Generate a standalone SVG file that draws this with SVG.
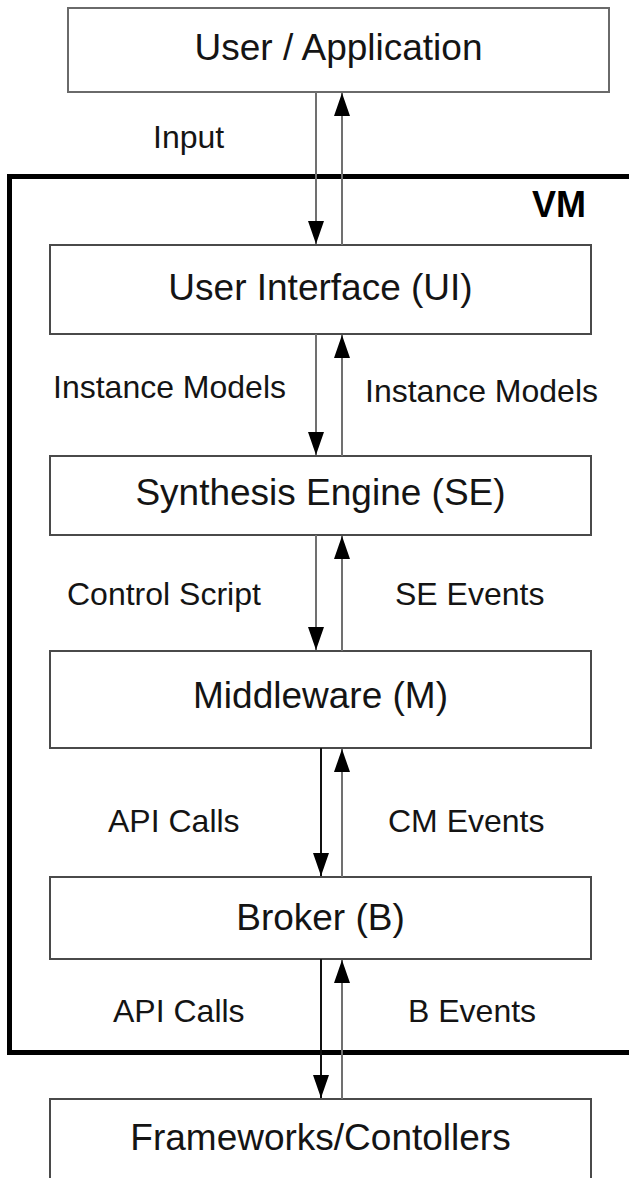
<svg xmlns="http://www.w3.org/2000/svg" width="629" height="1178" viewBox="0 0 629 1178">
  <defs>
    <marker id="head" markerUnits="userSpaceOnUse" markerWidth="24" markerHeight="18" viewBox="0 0 24 18" refX="23" refY="9" orient="auto">
      <path d="M0,1 L23,9 L0,17 Z" fill="#000"/>
    </marker>
    <style>
      .box { fill: #fff; stroke: #4a4a4a; stroke-width: 2; }
      .name { font-family: "Liberation Sans", Arial, sans-serif; font-size: 37px; fill: #141414; text-anchor: middle; }
      .lbl { font-family: "Liberation Sans", Arial, sans-serif; font-size: 32px; fill: #141414; }
      .flow { stroke: #707070; stroke-width: 2; fill: none; }
      .flow.dark { stroke: #111; }
    </style>
  </defs>

  <rect width="629" height="1178" fill="#fff"/>

  <!-- VM container -->
  <g id="vm">
    <rect x="9.5" y="176.5" width="640" height="876" fill="none" stroke="#000" stroke-width="5"/>
    <text x="586" y="217" font-family="Liberation Sans, Arial, sans-serif" font-size="36" font-weight="bold" text-anchor="end" fill="#000">VM</text>
  </g>

  <g id="user-app">
    <rect class="box" x="68" y="8" width="541" height="84" style="stroke:#6a6a6a"/>
    <text class="name" x="338.5" y="60">User / Application</text>
  </g>

  <g id="ui">
    <rect class="box" x="50" y="245" width="541" height="89"/>
    <text class="name" x="320.5" y="300">User Interface (UI)</text>
  </g>

  <g id="se">
    <rect class="box" x="50" y="456" width="541" height="79"/>
    <text class="name" x="320.5" y="505">Synthesis Engine (SE)</text>
  </g>

  <g id="middleware">
    <rect class="box" x="50" y="651" width="541" height="97"/>
    <text class="name" x="320.5" y="708">Middleware (M)</text>
  </g>

  <g id="broker">
    <rect class="box" x="50" y="877" width="541" height="82"/>
    <text class="name" x="320.5" y="930">Broker (B)</text>
  </g>

  <g id="frameworks">
    <rect class="box" x="50" y="1099" width="541" height="100"/>
    <text class="name" x="320.5" y="1150">Frameworks/Contollers</text>
  </g>

  <!-- connectors -->
  <g id="connectors">
    <line class="flow" x1="316" y1="92" x2="316" y2="244" marker-end="url(#head)"/>
    <line class="flow" x1="342" y1="245" x2="342" y2="93" marker-end="url(#head)"/>

    <line class="flow" x1="316" y1="334" x2="316" y2="455" marker-end="url(#head)"/>
    <line class="flow" x1="342" y1="456" x2="342" y2="335" marker-end="url(#head)"/>

    <line class="flow" x1="316" y1="535" x2="316" y2="650" marker-end="url(#head)"/>
    <line class="flow" x1="342" y1="651" x2="342" y2="536" marker-end="url(#head)"/>

    <line class="flow dark" x1="321" y1="748" x2="321" y2="876" marker-end="url(#head)"/>
    <line class="flow" x1="342" y1="877" x2="342" y2="749" marker-end="url(#head)"/>

    <line class="flow dark" x1="321" y1="959" x2="321" y2="1098" marker-end="url(#head)"/>
    <line class="flow" x1="342" y1="1099" x2="342" y2="960" marker-end="url(#head)"/>
  </g>

  <g id="labels">
    <text class="lbl" x="53" y="398">Instance Models</text>
    <text class="lbl" x="153" y="148">Input</text>
    <text class="lbl" x="365" y="402">Instance Models</text>
    <text class="lbl" x="67" y="605">Control Script</text>
    <text class="lbl" x="395" y="605">SE Events</text>
    <text class="lbl" x="108" y="832">API Calls</text>
    <text class="lbl" x="388" y="832">CM Events</text>
    <text class="lbl" x="113" y="1022">API Calls</text>
    <text class="lbl" x="408" y="1022">B Events</text>
  </g>
</svg>
